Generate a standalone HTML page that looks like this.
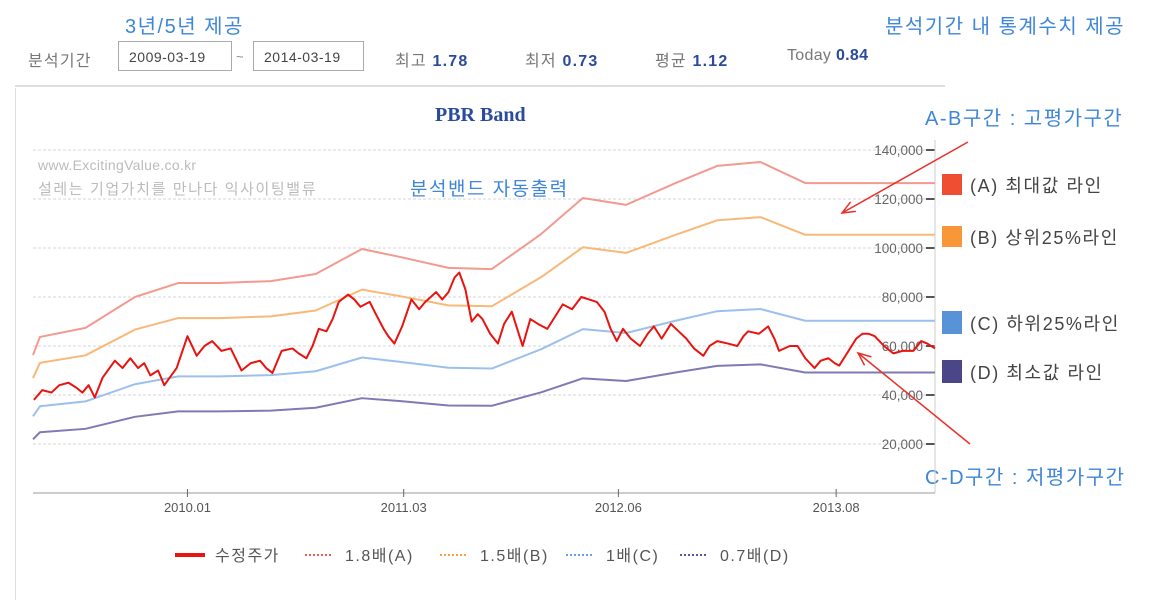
<!DOCTYPE html>
<html><head><meta charset="utf-8">
<style>
body{margin:0;background:#fff;width:1149px;height:600px;overflow:hidden;font-family:"Liberation Sans","Noto Sans CJK KR",sans-serif;}
.abs{position:absolute;white-space:nowrap;}
.blue{color:#3f86d8;font-size:20px;letter-spacing:1.5px;}
.inp{position:absolute;top:41px;height:30px;border:1px solid #aaa;font-size:14px;color:#444;line-height:30px;padding-left:10px;box-sizing:border-box;letter-spacing:0.5px;}
.lbl{font-size:16px;color:#777;letter-spacing:1.2px;}
.val{font-weight:bold;color:#2a4a9a;font-size:16px;}
.leg{font-size:18px;color:#444;letter-spacing:1.6px;}
</style></head><body>
<div class="abs" style="left:15px;top:88px;width:1px;height:512px;background:#ddd"></div>
<div class="abs blue" style="left:125px;top:10px">3년/5년 제공</div>
<div class="abs blue" style="left:885px;top:10px">분석기간 내 통계수치 제공</div>
<div class="abs lbl" style="left:28px;top:47px">분석기간</div>
<div class="inp" style="left:118px;width:114px">2009-03-19</div>
<div class="abs" style="left:236px;top:49px;color:#888;font-size:13px">~</div>
<div class="inp" style="left:253px;width:111px">2014-03-19</div>
<div class="abs lbl" style="left:395px;top:47px">최고 <span class="val">1.78</span></div>
<div class="abs lbl" style="left:525px;top:47px">최저 <span class="val">0.73</span></div>
<div class="abs lbl" style="left:655px;top:47px">평균 <span class="val">1.12</span></div>
<div class="abs lbl" style="left:787px;top:47px;letter-spacing:0.3px">Today <span class="val">0.84</span></div>
<div class="abs" style="left:15px;top:85px;width:930px;height:2px;background:#ddd"></div>
<div class="abs" style="left:435px;top:104px;font-family:'Liberation Serif',serif;font-weight:bold;font-size:20px;color:#2a4aa0">PBR Band</div>
<div class="abs" style="left:38px;top:157px;font-size:14px;color:#bbb;letter-spacing:0.3px">www.ExcitingValue.co.kr</div>
<div class="abs" style="left:38px;top:178px;font-size:15px;color:#bbb;letter-spacing:1.6px">설레는 기업가치를 만나다 익사이팅밸류</div>
<div class="abs blue" style="left:410px;top:174px;font-size:19px">분석밴드 자동출력</div>
<div class="abs blue" style="left:925px;top:102px">A-B구간 : 고평가구간</div>
<div class="abs blue" style="left:925px;top:461px">C-D구간 : 저평가구간</div>

<div class="abs" style="left:942px;top:174px;width:20px;height:21px;background:#f04e32"></div>
<div class="abs leg" style="left:970px;top:172px">(A) 최대값 라인</div>
<div class="abs" style="left:942px;top:226px;width:20px;height:21px;background:#f7973a"></div>
<div class="abs leg" style="left:970px;top:224px">(B) 상위25%라인</div>
<div class="abs" style="left:942px;top:311px;width:20px;height:23px;background:#5a92d8"></div>
<div class="abs leg" style="left:970px;top:310px">(C) 하위25%라인</div>
<div class="abs" style="left:942px;top:360px;width:20px;height:23px;background:#4a4688"></div>
<div class="abs leg" style="left:970px;top:359px">(D) 최소값 라인</div>

<svg id="chart" width="1149" height="600" style="position:absolute;left:0;top:0"></svg>
<script>
const xTickLabels=["2010.01","2011.03","2012.06","2013.08"];
const xTickMonths=[10,24,37.9,52];
const yTicks=[20000,40000,60000,80000,100000,120000,140000];
const bandMonths=[0,0.45,3.4,6.6,9.4,12.1,15.4,18.3,21.3,23.8,26.9,29.7,32.9,35.6,38.4,41.6,44.3,47.1,50.0,58.4];
const bandA=[56300,63700,67400,80000,85700,85700,86500,89400,99600,96300,91900,91400,105700,120400,117600,126500,133500,135100,126500,126500];
const bandB=[46900,53100,56200,66700,71400,71400,72100,74500,83000,80300,76600,76200,88100,100300,98000,105400,111300,112600,105400,105400];
const bandC=[31300,35400,37400,44400,47600,47600,48100,49700,55300,53500,51100,50800,58700,66900,65300,70300,74200,75100,70300,70300];
const bandD=[21900,24800,26200,31100,33300,33300,33600,34800,38700,37500,35700,35600,41100,46800,45700,49200,51900,52500,49200,49200];
const priceMonths=[0.06,0.6,1.2,1.7,2.3,2.8,3.2,3.6,4.0,4.5,5.3,5.8,6.3,6.8,7.2,7.6,8.1,8.5,9.3,10.0,10.6,11.1,11.6,12.2,12.8,13.5,14.1,14.7,15.1,15.5,16.1,16.8,17.2,17.7,18.1,18.5,19.0,19.4,19.8,20.4,20.8,21.2,21.8,22.2,22.7,23.0,23.4,23.9,24.5,25.0,25.4,26.1,26.5,26.9,27.3,27.6,28.0,28.4,28.8,29.1,29.6,30.1,30.5,31.0,31.4,31.7,32.2,32.7,33.3,33.8,34.3,34.9,35.5,36.0,36.5,37.0,37.4,37.8,38.2,38.7,39.3,39.8,40.2,40.7,41.3,41.8,42.3,42.8,43.4,43.8,44.3,45.0,45.6,46.0,46.3,47.0,47.6,48.0,48.3,49.0,49.5,50.0,50.6,51.0,51.5,51.9,52.2,52.6,53.0,53.3,53.7,54.1,54.5,55.1,55.7,56.3,57.0,57.5,57.9,58.4];
const priceValues=[38000,42000,41000,44000,45000,43000,41000,44000,39000,47000,54000,51000,55000,51000,53000,48000,50000,44000,51000,64000,56000,60000,62000,58000,59000,50000,53000,54000,51000,49000,58000,59000,57000,55000,60000,67000,66000,71000,78000,81000,79000,76000,78000,73000,67000,64000,61000,68000,79000,75000,78000,82000,79000,82000,88000,90000,83000,70000,73000,71000,65000,61000,69000,74000,66000,60000,71000,69000,67000,72000,77000,75000,80000,79000,78000,74000,67000,62000,67000,63000,60000,65000,68000,63000,69000,66000,63000,59000,56000,60000,62000,61000,60000,64000,66000,65000,68000,63000,58000,60000,60000,55000,51000,54000,55000,53000,52000,56000,60000,63000,65000,65000,64000,60000,57000,58000,58000,62000,61000,59000];
const svg=document.getElementById('chart');
const NS='http://www.w3.org/2000/svg';
const X0=33,X1=935,Y0=493;
const xs=m=>X0+(m/58.4)*(X1-X0);
const ys=v=>Y0-v*(49/20000);
function mk(tag,attrs){const e=document.createElementNS(NS,tag);for(const k in attrs)e.setAttribute(k,attrs[k]);svg.appendChild(e);return e;}
yTicks.forEach((v,i)=>{
  const g=mk('line',{x1:X0,x2:X1,y1:ys(v),y2:ys(v),stroke:'#d4d4d4','stroke-dasharray':'3,2'});
  
  
  const t=mk('line',{x1:X1-9,x2:X1,y1:ys(v),y2:ys(v),stroke:'#555','stroke-width':2});
  
  
  const l=mk('text',{x:X1-12,y:ys(v)+5,'text-anchor':'end','font-size':13.5,fill:'#666','font-family':'Liberation Sans, sans-serif'});
  l.textContent=v.toLocaleString('en-US');
  
  
});
const ax=mk('line',{x1:X1,x2:X1,y1:140,y2:Y0,stroke:'#ccc'});


const bx=mk('line',{x1:X0,x2:X1,y1:Y0,y2:Y0,stroke:'#bbb','stroke-width':1.5});


xTickMonths.forEach((m,i)=>{
  const t=mk('line',{x1:xs(m),x2:xs(m),y1:Y0-4,y2:Y0+4,stroke:'#666'});
  
  
  const l=mk('text',{x:xs(m),y:Y0+19,'text-anchor':'middle','font-size':13,fill:'#555','font-family':'Liberation Sans, sans-serif'});
  l.textContent=xTickLabels[i];
  
  
});
function line(ms,vs,color,w,name){
  const p=mk('polyline',{points:ms.map((m,i)=>xs(m)+','+ys(vs[i])).join(' '),fill:'none',stroke:color,'stroke-width':w,'stroke-linejoin':'round'});
  
  
}
line(bandMonths,bandA,'#f39a90',2,'band-a-line');
line(bandMonths,bandB,'#f8b878',2,'band-b-line');
line(bandMonths,bandC,'#9cc0ec',2,'band-c-line');
line(bandMonths,bandD,'#7f7ab4',2,'band-d-line');
line(priceMonths,priceValues,'#e8140f',2,'adjusted-price-line');
function arrow(x1,y1,x2,y2,name){
  const a=mk('line',{x1,y1,x2,y2,stroke:'#e8302a','stroke-width':1.5});
  
  
  const ang=Math.atan2(y1-y2,x1-x2);
  const h=mk('polyline',{points:`${x2+14*Math.cos(ang-0.4)},${y2+14*Math.sin(ang-0.4)} ${x2},${y2} ${x2+14*Math.cos(ang+0.4)},${y2+14*Math.sin(ang+0.4)}`,fill:'none',stroke:'#e8302a','stroke-width':1.5});
  
  
}
arrow(968,142,842,213,'high-zone-arrow');
arrow(970,444,858,353,'low-zone-arrow');
const leg=[['수정주가','#e8140f',false,175],['1.8배(A)','#f05a50',true,305],['1.5배(B)','#f7a040',true,440],['1배(C)','#6a9ee0',true,566],['0.7배(D)','#5a56a0',true,680]];
leg.forEach(d=>{
  const l=mk('line',{x1:d[3],x2:d[3]+(d[2]?28:30),y1:555,y2:555,stroke:d[1],'stroke-width':d[2]?2:4,'stroke-dasharray':d[2]?'2,2':'none'});
  
  
  const t=mk('text',{x:d[3]+40,y:561,'font-size':16,'letter-spacing':1.5,fill:'#555','font-family':'Liberation Sans, Noto Sans CJK KR, sans-serif'});
  t.textContent=d[0];
  
  
});
</script>
</body></html>
